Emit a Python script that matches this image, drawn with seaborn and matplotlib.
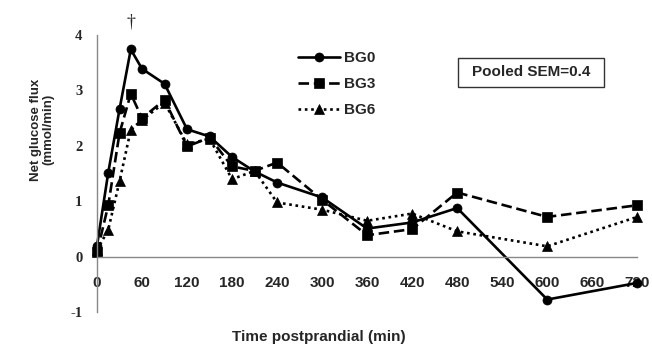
import numpy as np
import pandas as pd
import matplotlib
matplotlib.use("Agg")
import matplotlib.pyplot as plt
from matplotlib.patches import Rectangle
import seaborn as sns

# ---- data ----
time_bg0 = [0, 15, 30, 45, 60, 90, 120, 150, 180, 210, 240, 300, 360, 420, 480, 600, 720]
bg0 = [0.20, 1.52, 2.66, 3.74, 3.39, 3.12, 2.30, 2.17, 1.80, 1.54, 1.34, 1.07, 0.51, 0.62, 0.88, -0.77, -0.47]

time_bg3 = [0, 15, 30, 45, 60, 90, 120, 150, 180, 210, 240, 300, 360, 420, 480, 600, 720]
bg3 = [0.08, 0.93, 2.23, 2.94, 2.50, 2.83, 1.99, 2.15, 1.63, 1.55, 1.70, 1.03, 0.39, 0.50, 1.16, 0.72, 0.93]

time_bg6 = [0, 15, 30, 45, 60, 90, 120, 150, 180, 210, 240, 300, 360, 420, 480, 600, 720]
bg6 = [0.12, 0.49, 1.36, 2.29, 2.47, 2.78, 2.03, 2.13, 1.40, 1.55, 0.98, 0.85, 0.65, 0.78, 0.46, 0.19, 0.72]

groups = ["BG0", "BG3", "BG6"]
x_ticks = list(range(0, 721, 60))
y_ticks = [-1, 0, 1, 2, 3, 4]
sem_text = "Pooled SEM=0.4"

df = pd.concat([
    pd.DataFrame({"time": time_bg0, "flux": bg0, "group": "BG0"}),
    pd.DataFrame({"time": time_bg3, "flux": bg3, "group": "BG3"}),
    pd.DataFrame({"time": time_bg6, "flux": bg6, "group": "BG6"}),
], ignore_index=True)

sns.set_style("white")
plt.rcParams["font.family"] = ["Liberation Sans", "DejaVu Sans"]

W, H = 652, 347
fig = plt.figure(figsize=(W / 100, H / 100), dpi=100)
ax = fig.add_axes([97 / W, 1 - 312.3 / H, (637.3 - 97) / W, (312.3 - 35) / H])

LW = 1.9
sns.lineplot(
    data=df, x="time", y="flux", style="group", style_order=groups,
    markers={"BG0": "o", "BG3": "s", "BG6": "^"},
    dashes={"BG0": "", "BG3": (4.0, 1.8), "BG6": (1.0, 1.4)},
    color="black", linewidth=LW, markersize=6.5,
    markeredgecolor="black", markeredgewidth=0.5,
    estimator=None, errorbar=None, ax=ax, clip_on=False,
)

ax.set_xlim(0, 720)
ax.set_ylim(-1, 4)
ax.set_xticks(x_ticks)
ax.set_yticks(y_ticks)
ax.set_xticklabels([str(v) for v in x_ticks])
ax.set_yticklabels([str(v) for v in y_ticks])

for s in ["top", "right"]:
    ax.spines[s].set_visible(False)
ax.spines["bottom"].set_position(("data", 0))
for s in ["left", "bottom"]:
    ax.spines[s].set_color("#888888")
    ax.spines[s].set_linewidth(1.0)

ax.tick_params(axis="x", direction="out", length=4.5, width=1, color="#888888",
               pad=9, labelsize=11)
ax.tick_params(axis="y", direction="out", length=2.5, width=1, color="#888888",
               pad=8, labelsize=10.5)
for lab in ax.get_xticklabels():
    lab.set_fontweight("bold")
    lab.set_family(["Liberation Sans", "DejaVu Sans"])
for lab in ax.get_yticklabels():
    lab.set_fontweight("bold")
    lab.set_family(["Liberation Serif", "DejaVu Serif"])

ax.set_xlabel("")
ax.set_ylabel("")
fig.text(318.7 / W, 1 - 337 / H, "Time postprandial (min)", ha="center", va="center",
         fontsize=11, fontweight="bold")
fig.text(42 / W, 1 - 129.5 / H, "Net glucose flux\n(mmol/min)", ha="center", va="center",
         rotation=90, fontsize=9.5, fontweight="bold", linespacing=1.05,
         multialignment="center")

# dagger over the BG0 peak
ax.text(45, 4.235, "\u2020", ha="center", va="center", fontsize=13,
        family=["Liberation Serif", "DejaVu Serif"], clip_on=False)

# legend
sns.move_legend(ax, loc="upper left", bbox_to_anchor=(298 / W, 1 - 51.5 / H),
                bbox_transform=fig.transFigure, frameon=False, title=None,
                borderpad=0, borderaxespad=0, handlelength=2.75,
                handletextpad=0.25, labelspacing=0.77,
                prop={"weight": "bold", "size": 11})
leg = ax.get_legend()
for h in leg.legend_handles:
    h.set_color("black")
    h.set_markeredgecolor("black")
    h.set_markerfacecolor("black")
    h.set_linewidth(LW)

# pooled SEM box
fig.patches.append(Rectangle((458 / W, 1 - 87 / H), (604 - 458) / W, (87 - 58) / H,
                             transform=fig.transFigure, fill=False,
                             edgecolor="#333333", linewidth=1.0))
fig.text(531 / W, 1 - 72.5 / H, sem_text, ha="center", va="center",
         fontsize=11, fontweight="bold")

fig.savefig("out.png", dpi=100, facecolor="white")
